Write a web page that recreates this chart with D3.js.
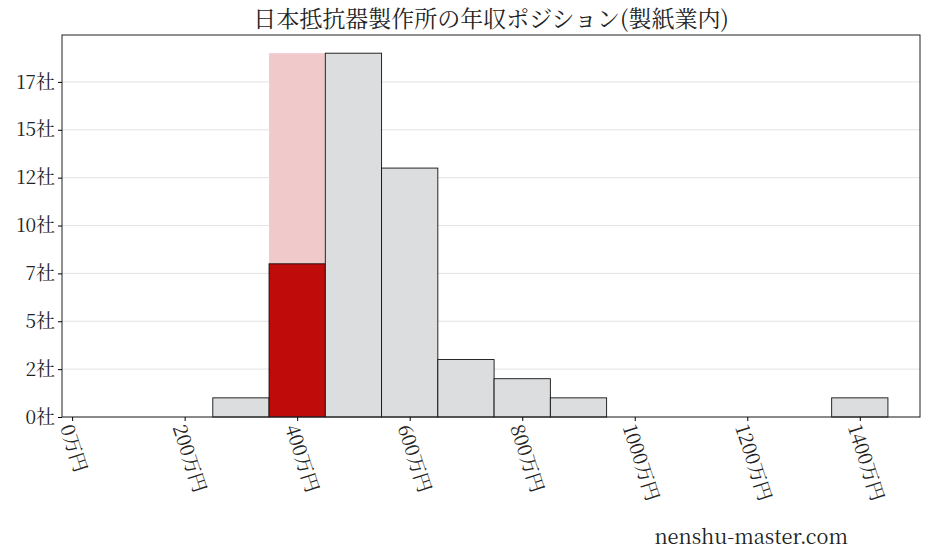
<!DOCTYPE html>
<html><head><meta charset="utf-8">
<script src="https://cdn.jsdelivr.net/npm/d3@7"></script>
<style>body{margin:0;background:#fff}</style>
</head><body>
<svg id="chart" width="928" height="557"></svg>
<script>
// bins in 万円 (start), company counts
var binStarts = [250, 350, 450, 550, 650, 750, 850, 1350];
var binCounts = [1, 8, 19, 13, 3, 2, 1, 1];
var highlightBin = 350;
var highlightMax = 19;
var xTicks = [0, 200, 400, 600, 800, 1000, 1200, 1400];
var yTicks = [0, 2.5, 5, 7.5, 10, 12.5, 15, 17.5];
var binWidth = 100;

var font = "'Noto Serif CJK JP','Noto Sans CJK JP',serif";
var svg = d3.select("#chart");
var m = {l: 62, r: 8, t: 35, b: 140};
var w = 928 - m.l - m.r, h = 557 - m.t - m.b;

var x = d3.scaleLinear().domain([-18, 1507]).range([0, w]);
var y = d3.scaleLinear().domain([0, 19.95]).range([h, 0]);

var g = svg.append("g").attr("transform", "translate(" + m.l + "," + m.t + ")");

g.selectAll(".grid").data(yTicks).enter().append("line")
    .attr("x1", 0).attr("x2", w)
    .attr("y1", d => y(d)).attr("y2", d => y(d))
    .attr("stroke", "#dcdcdc").attr("stroke-width", 0.8);

// highlight background for own bin
g.append("rect")
    .attr("x", x(highlightBin)).attr("width", x(highlightBin + binWidth) - x(highlightBin))
    .attr("y", y(highlightMax)).attr("height", h - y(highlightMax))
    .attr("fill", "#f0caca");

g.selectAll(".bar").data(binStarts).enter().append("rect")
    .attr("x", d => x(d)).attr("width", x(binWidth) - x(0))
    .attr("y", (d, i) => y(binCounts[i])).attr("height", (d, i) => h - y(binCounts[i]))
    .attr("fill", d => d == highlightBin ? "#c00b0b" : "#dcdddf")
    .attr("stroke", "#111").attr("stroke-width", 0.9);

g.append("rect").attr("width", w).attr("height", h)
    .attr("fill", "none").attr("stroke", "#222").attr("stroke-width", 1);

var xa = g.append("g").attr("transform", "translate(0," + h + ")")
    .call(d3.axisBottom(x).tickValues(xTicks).tickSize(4).tickFormat(d => d + "万円"));
xa.select(".domain").remove();
xa.selectAll("text").attr("font-family", font).attr("font-size", 19).attr("fill", "#222")
    .attr("text-anchor", "start").attr("dy", 0)
    .attr("transform", "translate(-6,8) rotate(72)");

var ya = g.append("g")
    .call(d3.axisLeft(y).tickValues(yTicks).tickSize(4).tickFormat(d => Math.floor(d) + "社"));
ya.select(".domain").remove();
ya.selectAll("text").attr("font-family", font).attr("font-size", 19).attr("fill", "#222");

svg.append("text").attr("x", 491).attr("y", 27).attr("text-anchor", "middle")
    .attr("font-family", font).attr("font-size", 23).attr("fill", "#222")
    .text("日本抵抗器製作所の年収ポジション(製紙業内)");

svg.append("text").attr("x", 848).attr("y", 544).attr("text-anchor", "end")
    .attr("font-family", font).attr("font-size", 20).attr("fill", "#222")
    .text("nenshu-master.com");
</script>
</body></html>
